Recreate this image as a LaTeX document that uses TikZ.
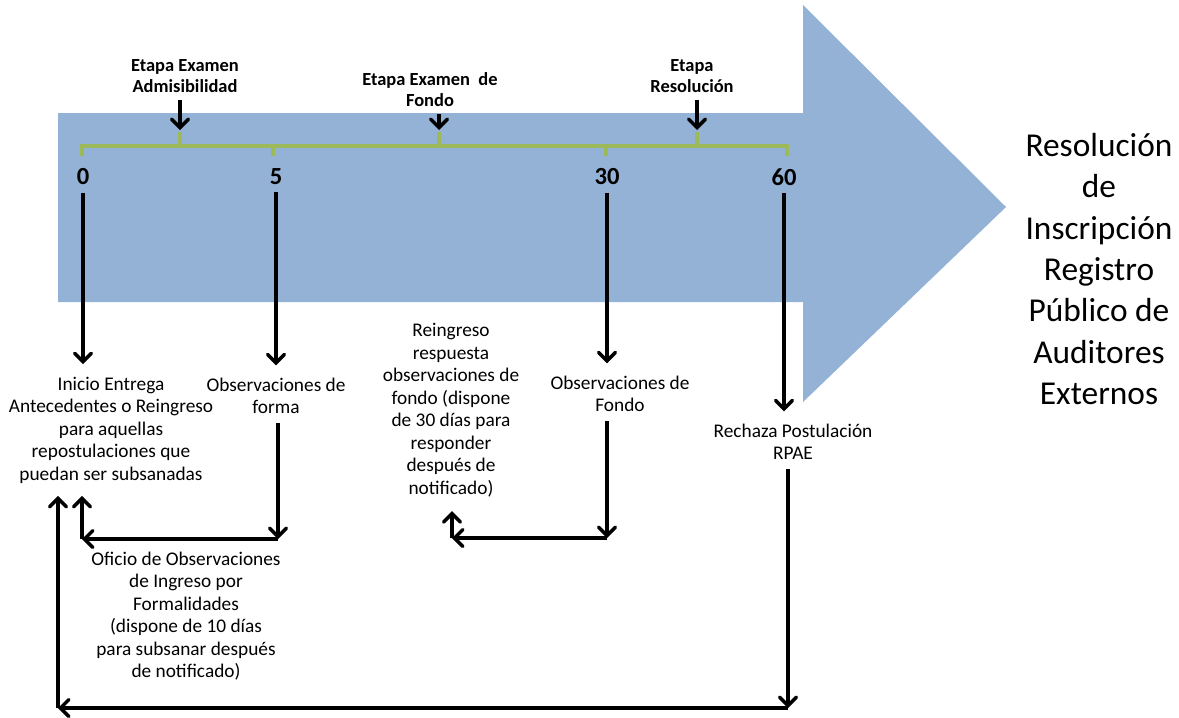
\documentclass[tikz,border=0pt]{standalone}
\usepackage{fontspec}
\setmainfont{Carlito}
\usepackage{tikz}
\usetikzlibrary{arrows}
\usetikzlibrary{calc}
\definecolor{azulflecha}{rgb}{0.58, 0.70, 0.84}
\definecolor{verdeoliva}{rgb}{0.61, 0.73, 0.35}

\begin{document}
\begin{tikzpicture}
    [x=0.02cm,y=-0.02cm,
     etapa/.style={font=\bfseries\fontsize{10.5}{12}\selectfont,align=center,inner sep=1pt},
     numero/.style={font=\bfseries\fontsize{14}{16}\selectfont,inner sep=1pt},
     texto/.style={font=\fontsize{11}{12.8}\selectfont,align=center,inner sep=1pt},
     flecha/.style={line width=2pt,-angle 90},
     llave/.style={draw=verdeoliva,line width=2.4pt}]

\useasboundingbox (0,0) rectangle (1179,717);

% flecha de fondo
\fill[azulflecha] (58,113) -- (803,113) -- (803,5) -- (1006,207) -- (803,402) -- (803,302) -- (58,302) -- cycle;

% llave verde
\draw[llave] (82,156) -- (82,146) -- (787,146) -- (787,156);
\draw[llave] (273,146) -- (273,156);
\draw[llave] (606,146) -- (606,156);
\draw[llave] (180,146) -- (180,132);
\draw[llave] (439,146) -- (439,132);
\draw[llave] (697,146) -- (697,132);
\coordinate (k1) at (180,130);
\coordinate (k2) at (439,130);
\coordinate (k3) at (697,130);

\node[etapa] (e1) at (185,76) {Etapa Examen\\Admisibilidad};
\node[etapa] (e2) at (430,90) {Etapa Examen~ de\\Fondo};
\node[etapa] (e3) at (692,76) {Etapa\\Resolución};
\draw[flecha,shorten <=3pt] (e1.south -| k1) -- (k1);
\draw[flecha,shorten <=3pt] (e2.south -| k2) -- (k2);
\draw[flecha,shorten <=3pt] (e3.south -| k3) -- (k3);

\node[numero] (n0) at (83,177) {0};
\node[numero] (n5) at (276,177) {5};
\node[numero] (n30) at (607,177) {30};
\node[numero] (n60) at (784,177) {60};

\node[texto] (inicio) at (111,430) {Inicio Entrega\\Antecedentes o Reingreso\\para aquellas\\repostulaciones que\\puedan ser subsanadas};
\node[texto] (forma) at (276,396) {Observaciones de\\forma};
\node[texto] (reingreso) at (451,410) {Reingreso\\respuesta\\observaciones de\\fondo (dispone\\de 30 días para\\responder\\después de\\notificado)};
\node[texto] (fondo) at (620,394) {Observaciones de\\Fondo};
\node[texto] (rechaza) at (793,442) {Rechaza Postulación\\RPAE};
\node[texto] (oficio) at (186,616) {Oficio de Observaciones\\de Ingreso por\\Formalidades\\(dispone de 10 días\\para subsanar después\\de notificado)};
\node[font=\fontsize{19}{23.5}\selectfont,align=center,inner sep=1pt] (resolucion) at (1099,269) {Resolución\\de\\Inscripción\\Registro\\Público de\\Auditores\\Externos};

\draw[flecha,shorten <=3pt,shorten >=6pt] (n0.south) -- (n0.south |- inicio.north);
\draw[flecha,shorten <=3pt,shorten >=6pt] (n5.south) -- (n5.south |- forma.north);
\draw[flecha,shorten <=3pt,shorten >=6pt] (n30.south) -- (n30.south |- fondo.north);
\draw[flecha,shorten <=3pt,shorten >=6pt] (n60.south) -- (n60.south |- rechaza.north);

\coordinate (c1) at (278,539);
\coordinate (c2) at (82,539);
\draw[flecha,shorten <=4pt] (forma.south -| c1) -- (c1);
\draw[flecha] (c1) -- (c2);
\draw[flecha,shorten >=6pt] (c2) -- (c2 |- inicio.south);

\coordinate (c3) at (607,538);
\coordinate (c4) at (452,538);
\draw[flecha,shorten <=4pt] (fondo.south -| c3) -- (c3);
\draw[flecha] (c3) -- (c4);
\draw[flecha,shorten >=7pt] (c4) -- (c4 |- reingreso.south);

\coordinate (c5) at (788,708);
\coordinate (c6) at (58,708);
\draw[flecha,shorten <=4pt] (rechaza.south -| c5) -- (c5);
\draw[flecha] (c5) -- (c6);
\draw[flecha,shorten >=6pt] (c6) -- (c6 |- inicio.south);

  \end{tikzpicture}
\end{document}
